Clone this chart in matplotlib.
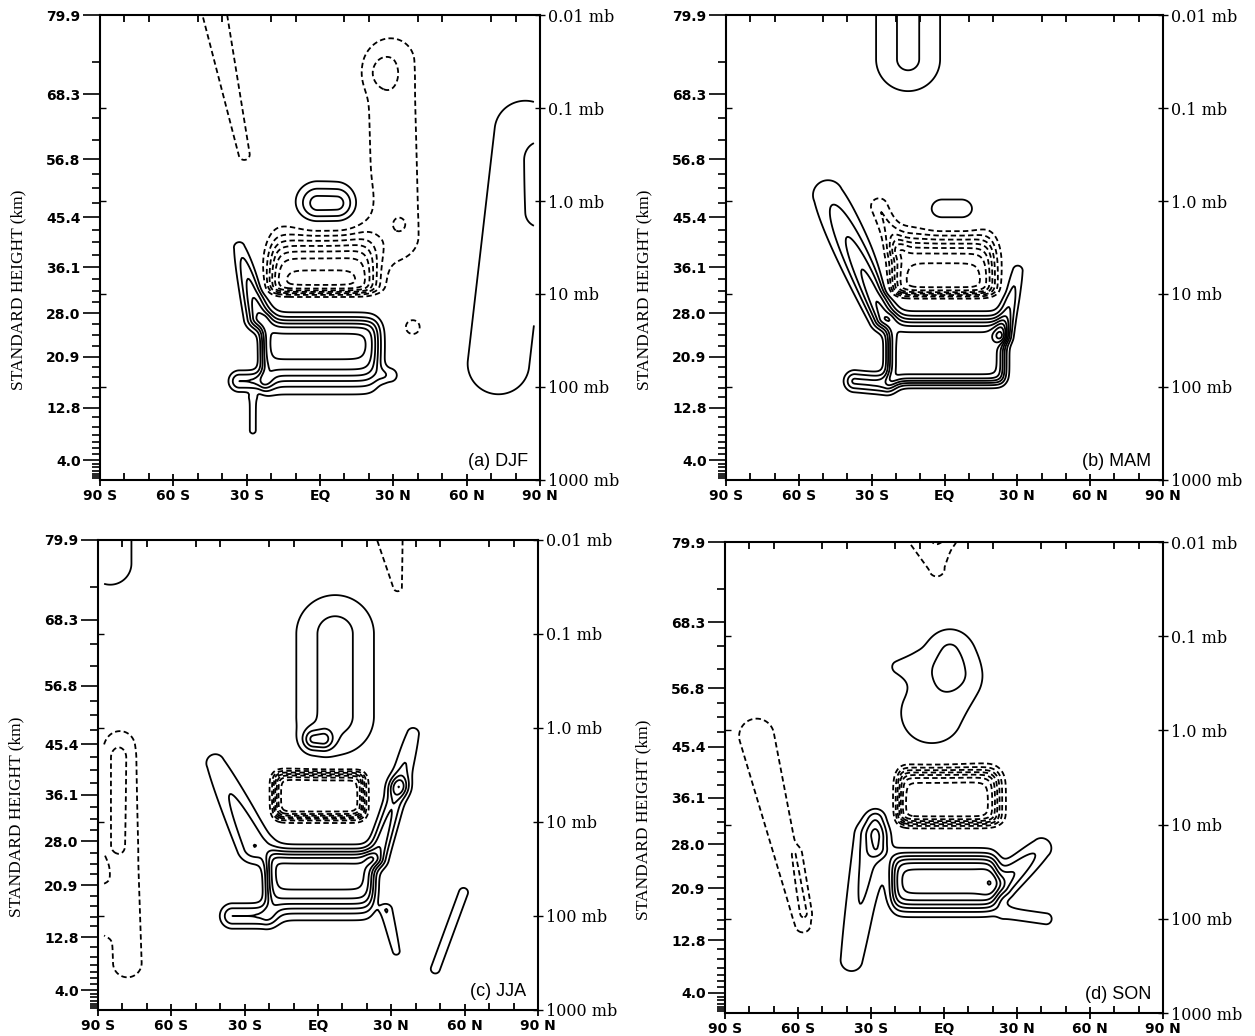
import numpy as np
import matplotlib.pyplot as plt

# left axis: standard heights (km) and their log-pressure height (16 km per decade)
height_labels = ['79.9', '68.3', '56.8', '45.4', '36.1', '28.0', '20.9', '12.8', '4.0']
height_label_z = [80.0, 66.4, 55.2, 45.2, 36.6, 28.7, 21.2, 12.4, 3.4]
level_z = [72.0, 62.3, 58.5, 52.6, 50.2, 47.7, 43.0, 40.9, 38.7, 34.6, 32.5,
           30.6, 26.8, 24.9, 23.1, 19.4, 17.7, 15.8, 14.3, 10.8, 9.1, 7.7,
           6.5, 5.5, 4.5, 2.75, 2.15, 1.55, 1.03, 0.6, 0.26]
pres_labels = ['0.01 mb', '0.1 mb', '1.0 mb', '10 mb', '100 mb', '1000 mb']
pres_z = [80, 64, 48, 32, 16, 0]
lat_ticks = [-90, -60, -30, 0, 30, 60, 90]
lat_labels = ['90 S', '60 S', '30 S', 'EQ', '30 N', '60 N', '90 N']

# fields read off the figure as smooth features
# boxes: lat_lo, lat_hi, z_lo, z_hi, s_lat_lo, s_lat_hi, s_z_lo, s_z_hi, amp
# tubes: lat_a, z_a, lat_b, z_b, width_a, width_b, amp_a, amp_b
djf_boxes = [
    (-23.5, 23.5, 17.3, 27.3, 1.2, 1.8, 1.5, 0.9, 6.6),
    (-20.0, 22.0, 32.3, 40.5, 2.0, 2.5, 0.45, 1.8, -7.6),
]
djf_tubes = [
    (-33, 17, -24, 17, 3.0, 3.0, 3.0, 3.0),
    (-27.5, 14, -27.5, 8.5, 1.5, 1.5, 1.4, 1.4),
    (-25, 28, -33, 40, 3.5, 2.5, 5.0, 1.5),
    (27, 18, 29, 18, 2.5, 2.5, 1.5, 1.5),
    (31, 42, 29, 72, 9.2, 9.2, -1.7, -1.7),
    (33, 44, 33, 44, 2.5, 2.5, -0.6, -0.6),
    (25, 70, 25, 70, 5.0, 5.0, -1.0, -1.0),
    (38, 26.3, 38, 26.3, 3.3, 3.3, -1.5, -1.5),
    (-45, 84, -31, 56, 6.0, 2.5, -1.5, -1.5),
    (-1, 47.5, 7, 47.5, 5.9, 5.9, 3.6, 3.6),
    (73, 20, 84, 60, 13.0, 13.0, 1.6, 1.6),
    (93, 46, 93, 55, 5.5, 5.5, 1.8, 1.8),
]
mam_boxes = [
    (-23.0, 24.5, 16.8, 27.5, 1.3, 1.3, 0.6, 0.9, 6.6),
    (-21.0, 20.0, 32.0, 41.0, 2.0, 2.0, 0.45, 1.5, -7.6),
]
mam_tubes = [
    (-15, 92, -15, 72.4, 10.5, 10.5, 2.2, 2.2),
    (-37, 17, -24, 16.5, 3.0, 3.0, 3.2, 3.2),
    (-25, 28, -48, 49, 3.5, 6.0, 5.5, 1.7),
    (24, 25, 30, 36, 2.5, 2.5, 4.0, 1.5),
    (-20, 40, -27, 47, 3.0, 3.0, -2.0, -2.0),
    (-1, 46, 7, 46, 6.5, 6.5, 1.5, 1.5),
]
jja_boxes = [
    (-20.5, 22.5, 17.5, 26.8, 1.3, 1.5, 1.3, 0.8, 6.6),
    (-17.5, 18.5, 32.8, 40.2, 1.2, 1.2, 0.5, 0.5, -8.0),
]
jja_tubes = [
    (-85, 76, -85, 88, 8.0, 8.0, 1.8, 1.8),
    (28, 84, 32.5, 72, 7.0, 2.0, -1.6, -1.6),
    (7, 50, 7, 64, 12.0, 12.0, 2.4, 2.4),
    (-2, 46, 2, 46, 3.0, 3.0, 3.0, 3.0),
    (-35, 16, -22, 16, 3.5, 3.5, 3.0, 3.0),
    (-26, 28, -42, 42, 5.0, 4.5, 3.0, 1.4),
    (24, 26, 33, 38, 3.0, 3.0, 4.0, 2.5),
    (33, 38, 39, 47, 3.0, 3.0, 2.5, 1.3),
    (28, 17, 32, 10, 2.0, 2.0, 2.0, 1.3),
    (-81, 45, -78, 8, 6.5, 6.5, -1.5, -1.5),
    (-83, 28, -82, 43, 3.5, 3.5, -1.0, -1.0),
    (-88, 20, -87, 14, 2.5, 2.5, -1.0, -1.0),
    (59.5, 20, 48, 7, 2.3, 2.3, 1.4, 1.4),
]
son_boxes = [
    (-21.0, 21.5, 18.0, 26.5, 1.5, 1.5, 1.0, 0.9, 6.6),
    (-18.5, 22.0, 32.3, 41.0, 1.3, 1.8, 0.5, 0.8, -7.8),
]
son_tubes = [
    (-6, 84, -3, 75.5, 13.0, 3.0, -1.8, -1.8),
    (-2, 81, 2, 81, 2.5, 2.5, -0.6, -0.6),
    (-5, 51, 2, 57, 13.0, 13.0, 1.6, 1.6),
    (-20, 59, -12, 59, 4.0, 4.0, 0.7, 0.7),
    (2.5, 58, 2.5, 62, 6.0, 6.0, 1.1, 1.1),
    (-30, 30, -38, 9, 5.0, 5.0, 2.6, 1.5),
    (-27, 28, -28, 33, 3.0, 3.0, 2.0, 2.0),
    (24, 22, 40, 28, 4.0, 4.0, 3.5, 1.7),
    (25, 17, 42, 16, 2.5, 2.5, 1.5, 1.5),
    (-77, 47, -58, 15, 8.0, 3.5, -1.5, -1.5),
    (-61, 27, -57, 17, 2.0, 2.0, -0.9, -0.9),
]

seasons = [('(a) DJF', djf_boxes, djf_tubes),
           ('(b) MAM', mam_boxes, mam_tubes),
           ('(c) JJA', jja_boxes, jja_tubes),
           ('(d) SON', son_boxes, son_tubes)]


def sig(x):
    return 1.0 / (1.0 + np.exp(-x))


def build_field(lat, z, boxes, tubes):
    LA, Z = np.meshgrid(lat, z)
    f = np.zeros_like(LA)
    for la0, la1, z0, z1, sl0, sl1, sz0, sz1, amp in boxes:
        f += amp * sig((LA - la0) / sl0) * sig((la1 - LA) / sl1) \
            * sig((Z - z0) / sz0) * sig((z1 - Z) / sz1)
    k = 2.4  # degrees of latitude per km, as the panels are drawn
    for la_a, z_a, la_b, z_b, w_a, w_b, a_a, a_b in tubes:
        dx, dy = la_b - la_a, (z_b - z_a) * k
        L2 = dx * dx + dy * dy
        px, py = LA - la_a, (Z - z_a) * k
        u = np.clip((px * dx + py * dy) / L2, 0, 1) if L2 > 0 else 0.0
        d2 = (px - u * dx) ** 2 + (py - u * dy) ** 2
        w = w_a + (w_b - w_a) * u
        f += (a_a + (a_b - a_a) * u) * np.exp(-0.5 * d2 / w ** 2)
    return LA, Z, f


lat = np.arange(-87.5, 87.51, 0.5)
zgrid = np.arange(0, 80.01, 0.25)
pos_levels = np.arange(1, 10)
neg_levels = np.arange(-9, 0)

fig = plt.figure(figsize=(12.55, 10.36), dpi=100)
rects = [[0.0797, 0.5367, 0.3506, 0.4488],
         [0.5785, 0.5367, 0.3482, 0.4488],
         [0.0781, 0.0251, 0.3506, 0.4537],
         [0.5777, 0.0222, 0.3490, 0.4546]]

tick_font = dict(family='DejaVu Sans', weight='bold', size=10)

for (title, boxes, tubes), rect in zip(seasons, rects):
    ax = fig.add_axes(rect)
    LA, Z, F = build_field(lat, zgrid, boxes, tubes)
    ax.contour(LA, Z, F, levels=pos_levels, colors='k', linewidths=1.3,
               linestyles='solid')
    ax.contour(LA, Z, F, levels=neg_levels, colors='k', linewidths=1.3,
               linestyles=[(0, (3, 1.8))])
    ax.set_xlim(-90, 90)
    ax.set_ylim(0, 80)
    for sp in ax.spines.values():
        sp.set_linewidth(1.5)

    # latitude axis
    ax.set_xticks(lat_ticks)
    ax.set_xticklabels(lat_labels, fontdict=tick_font)
    ax.set_xticks(np.arange(-80, 90, 10), minor=True)
    ax.tick_params(axis='x', which='major', direction='inout', length=9,
                   width=1.3, top=False, pad=2)
    ax.tick_params(axis='x', which='minor', direction='in', length=5,
                   width=1.3, top=True)

    # standard height on the left
    ax.set_yticks(height_label_z)
    ax.set_yticklabels(height_labels, fontdict=tick_font)
    ax.set_yticks(level_z, minor=True)
    ax.tick_params(axis='y', which='major', direction='out', length=12,
                   width=1.2, pad=2)
    ax.tick_params(axis='y', which='minor', direction='out', length=6,
                   width=1.2)
    sec = ax.secondary_yaxis('left')
    sec.set_yticks(pres_z[1:-1])
    sec.tick_params(direction='in', length=4, width=1.0, labelleft=False)
    sec.spines['left'].set_visible(False)

    # pressure on the right
    rax = ax.secondary_yaxis('right')
    rax.set_yticks(pres_z)
    rax.set_yticklabels(pres_labels, family='DejaVu Serif', size=11.5)
    rax.tick_params(direction='inout', length=7, width=1.0, pad=2)
    rax.spines['right'].set_visible(False)

    ax.text(0.973, 0.022, title, transform=ax.transAxes, ha='right',
            va='bottom', family='Liberation Sans', size=13)
    ax.text(-0.186, 0.41, 'STANDARD HEIGHT (km)', transform=ax.transAxes,
            rotation=90, ha='center', va='center', family='Liberation Serif',
            size=12.5)

fig.savefig('out.png', dpi=100, facecolor='white')
